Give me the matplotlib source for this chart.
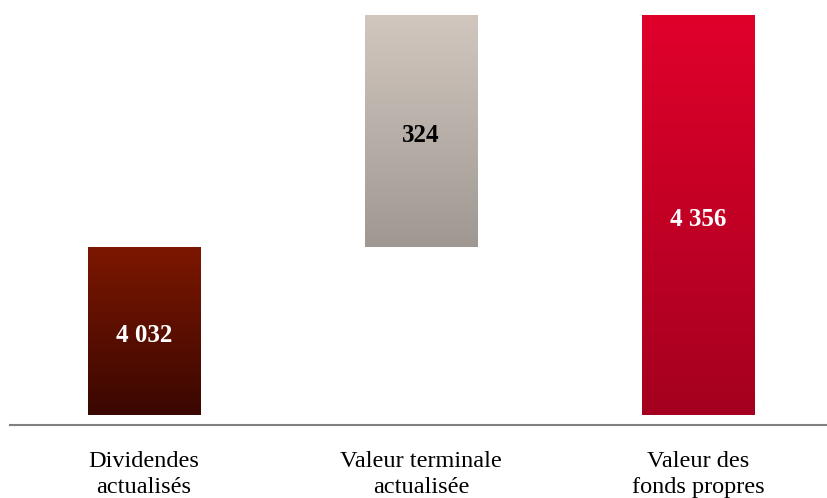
import numpy as np
import matplotlib
matplotlib.use("Agg")
import matplotlib.pyplot as plt
from matplotlib.colors import LinearSegmentedColormap

categories = ["Dividendes\nactualisés", "Valeur terminale\nactualisée", "Valeur des\nfonds propres"]
values = [4032, 324, 4356]
labels = ["4 032", "324", "4 356"]
bottoms = [0, 4032, 0]
top_colors = ["#7c1700", "#d1c7bf", "#e0002b"]
bottom_colors = ["#3a0700", "#9f9892", "#a5001f"]
label_colors = ["white", "black", "white"]

plt.rcParams['font.family'] = ['Liberation Serif', 'DejaVu Serif']

fig = plt.figure(figsize=(8.28, 4.98), dpi=100)
ax = fig.add_axes([10/828, (498-415)/498, 818/828, 415/498])

x = np.arange(len(categories))
ymin, ymax = 3797.4, 4377
ax.set_xlim(-0.484, 2.469)
ax.set_ylim(ymin, ymax)

bars = ax.bar(x, values, bottom=bottoms, width=0.405, color='none', edgecolor='none')

grad = np.linspace(0, 1, 256).reshape(-1, 1)
for b, tc, bc, lab, lc in zip(bars, top_colors, bottom_colors, labels, label_colors):
    x0, y0 = b.get_x(), b.get_y()
    w, h = b.get_width(), b.get_height()
    vis_bottom = max(y0, ymin)
    cmap = LinearSegmentedColormap.from_list("g", [bc, tc])
    ax.imshow(grad, cmap=cmap, aspect='auto', extent=[x0, x0 + w, vis_bottom, y0 + h],
              origin='lower', zorder=2, interpolation='bicubic')
    ax.annotate(lab, (x0 + w / 2, (vis_bottom + y0 + h) / 2), xytext=(0, -3),
                textcoords='offset points', ha='center', va='center',
                color=lc, fontsize=18, fontweight='bold', zorder=3)

ax.set_xlim(-0.484, 2.469)
ax.set_ylim(ymin, ymax)

for s in ['top', 'right', 'left']:
    ax.spines[s].set_visible(False)
ax.spines['bottom'].set_position(('outward', 7.2))
ax.spines['bottom'].set_color('#808080')
ax.spines['bottom'].set_linewidth(1.5)
ax.set_yticks([])
ax.set_xticks(x)
ax.set_xticklabels(categories, fontsize=17.5, linespacing=1.32)
ax.tick_params(axis='x', length=0, pad=18.5)

fig.savefig("out.png", dpi=100)
